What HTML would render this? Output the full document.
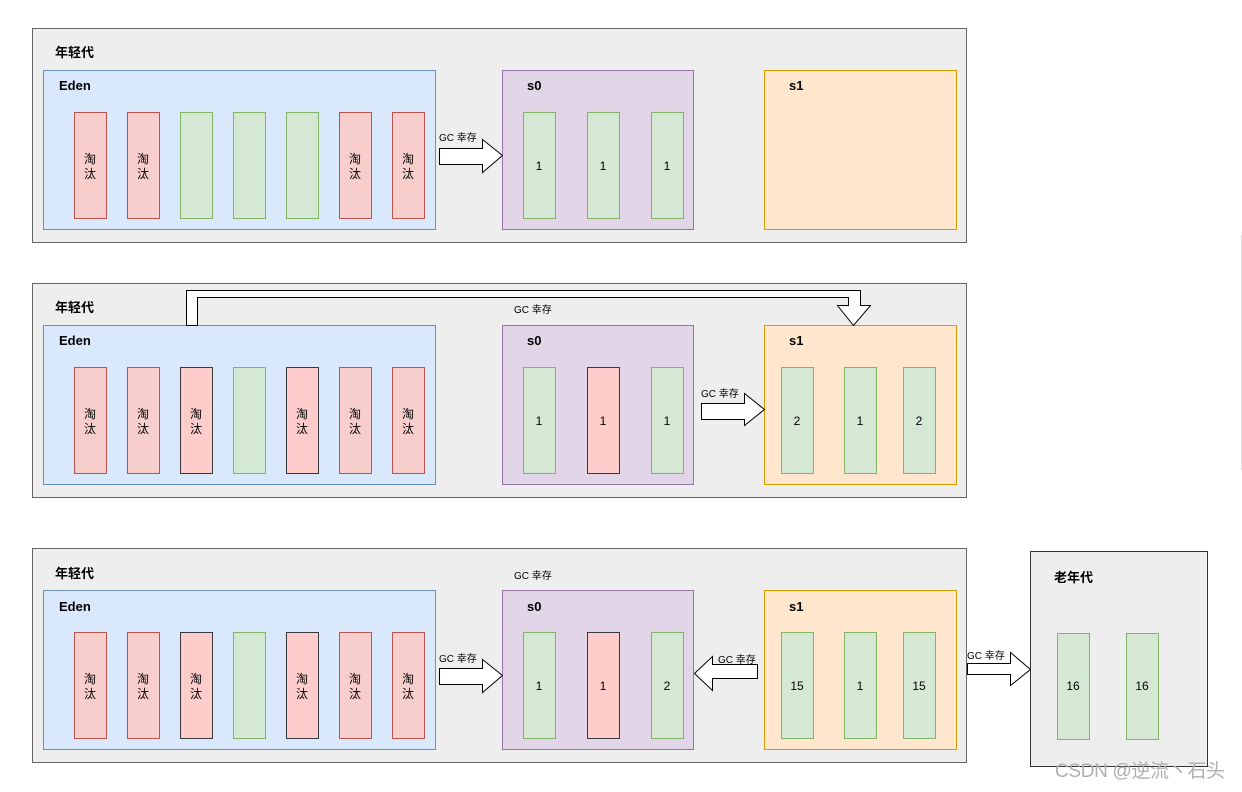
<!DOCTYPE html>
<html><head><meta charset="utf-8"><style>
body{margin:0;background:#fff;}
svg text{font-family:"Liberation Sans","Noto Sans CJK SC",sans-serif;}
</style></head><body>
<svg width="1242" height="787" viewBox="0 0 1242 787" xmlns="http://www.w3.org/2000/svg">
<defs>
<g id="tt"><text x="16" y="51" font-size="12" text-anchor="middle">淘</text><text x="16" y="66" font-size="12" text-anchor="middle">汰</text></g>
</defs>

<!-- Panel 1 -->
<rect x="32.5" y="28.5" width="934" height="214" fill="#eeeeee" stroke="#666"/>
<text x="55" y="57" font-size="13" font-weight="bold">年轻代</text>
<rect x="43.5" y="70.5" width="392" height="159" fill="#dae8fc" stroke="#6c8ebf"/>
<text x="59" y="90" font-size="13" font-weight="bold">Eden</text>
<g fill="#f8cecc" stroke="#b85450">
<rect x="74.5" y="112.5" width="32" height="106"/><rect x="127.5" y="112.5" width="32" height="106"/>
<rect x="339.5" y="112.5" width="32" height="106"/><rect x="392.5" y="112.5" width="32" height="106"/></g>
<g fill="#d5e8d4" stroke="#82b366">
<rect x="180.5" y="112.5" width="32" height="106"/><rect x="233.5" y="112.5" width="32" height="106"/><rect x="286.5" y="112.5" width="32" height="106"/></g>
<use href="#tt" x="74" y="112"/><use href="#tt" x="127" y="112"/><use href="#tt" x="339" y="112"/><use href="#tt" x="392" y="112"/>
<rect x="502.5" y="70.5" width="191" height="159" fill="#e1d5e7" stroke="#9673a6"/>
<text x="527" y="90" font-size="13" font-weight="bold">s0</text>
<g fill="#d5e8d4" stroke="#82b366">
<rect x="523.5" y="112.5" width="32" height="106"/><rect x="587.5" y="112.5" width="32" height="106"/><rect x="651.5" y="112.5" width="32" height="106"/></g>
<g font-size="12" text-anchor="middle"><text x="539" y="170">1</text><text x="603" y="170">1</text><text x="667" y="170">1</text></g>
<rect x="764.5" y="70.5" width="192" height="159" fill="#ffe6cc" stroke="#d79b00"/>
<text x="789" y="90" font-size="13" font-weight="bold">s1</text>
<path d="M439.5 148.5H482.5V139.5L502.5 155.5L482.5 172.5V164.5H439.5Z" fill="#fff" stroke="#000"/>
<text x="439" y="141" font-size="10">GC 幸存</text>

<!-- Panel 2 -->
<rect x="32.5" y="283.5" width="934" height="214" fill="#eeeeee" stroke="#666"/>
<text x="55" y="312" font-size="13" font-weight="bold">年轻代</text>
<rect x="43.5" y="325.5" width="392" height="159" fill="#dae8fc" stroke="#6c8ebf"/>
<text x="59" y="345" font-size="13" font-weight="bold">Eden</text>
<g fill="#f8cecc" stroke="#b85450">
<rect x="74.5" y="367.5" width="32" height="106"/><rect x="127.5" y="367.5" width="32" height="106"/>
<rect x="339.5" y="367.5" width="32" height="106"/><rect x="392.5" y="367.5" width="32" height="106"/></g>
<g fill="#ffcccc" stroke="#36393d">
<rect x="180.5" y="367.5" width="32" height="106"/><rect x="286.5" y="367.5" width="32" height="106"/></g>
<rect x="233.5" y="367.5" width="32" height="106" fill="#d5e8d4" stroke="#82b366"/>
<use href="#tt" x="74" y="367"/><use href="#tt" x="127" y="367"/><use href="#tt" x="180" y="367"/><use href="#tt" x="286" y="367"/><use href="#tt" x="339" y="367"/><use href="#tt" x="392" y="367"/>
<rect x="502.5" y="325.5" width="191" height="159" fill="#e1d5e7" stroke="#9673a6"/>
<text x="527" y="345" font-size="13" font-weight="bold">s0</text>
<rect x="523.5" y="367.5" width="32" height="106" fill="#d5e8d4" stroke="#82b366"/>
<rect x="587.5" y="367.5" width="32" height="106" fill="#ffcccc" stroke="#36393d"/>
<rect x="651.5" y="367.5" width="32" height="106" fill="#d5e8d4" stroke="#82b366"/>
<g font-size="12" text-anchor="middle"><text x="539" y="425">1</text><text x="603" y="425">1</text><text x="667" y="425">1</text></g>
<rect x="764.5" y="325.5" width="192" height="159" fill="#ffe6cc" stroke="#d79b00"/>
<text x="789" y="345" font-size="13" font-weight="bold">s1</text>
<g fill="#d5e8d4" stroke="#82b366">
<rect x="781.5" y="367.5" width="32" height="106"/><rect x="844.5" y="367.5" width="32" height="106"/><rect x="903.5" y="367.5" width="32" height="106"/></g>
<g font-size="12" text-anchor="middle"><text x="797" y="425">2</text><text x="860" y="425">1</text><text x="919" y="425">2</text></g>
<path d="M701.5 403.5H744.5V393.5L764.5 409.5L744.5 425.5V419.5H701.5Z" fill="#fff" stroke="#000"/>
<text x="701" y="397" font-size="10">GC 幸存</text>
<path d="M186.5 325.5V290.5H860.5V305.5H870.5L853.5 325.5L837.5 305.5H848.5V297.5H197.5V325.5Z" fill="#fff" stroke="#000"/>
<text x="514" y="313" font-size="10">GC 幸存</text>

<!-- Panel 3 -->
<rect x="32.5" y="548.5" width="934" height="214" fill="#eeeeee" stroke="#666"/>
<text x="55" y="578" font-size="13" font-weight="bold">年轻代</text>
<text x="514" y="579" font-size="10">GC 幸存</text>
<rect x="43.5" y="590.5" width="392" height="159" fill="#dae8fc" stroke="#6c8ebf"/>
<text x="59" y="611" font-size="13" font-weight="bold">Eden</text>
<g fill="#f8cecc" stroke="#b85450">
<rect x="74.5" y="632.5" width="32" height="106"/><rect x="127.5" y="632.5" width="32" height="106"/>
<rect x="339.5" y="632.5" width="32" height="106"/><rect x="392.5" y="632.5" width="32" height="106"/></g>
<g fill="#ffcccc" stroke="#36393d">
<rect x="180.5" y="632.5" width="32" height="106"/><rect x="286.5" y="632.5" width="32" height="106"/></g>
<rect x="233.5" y="632.5" width="32" height="106" fill="#d5e8d4" stroke="#82b366"/>
<use href="#tt" x="74" y="632"/><use href="#tt" x="127" y="632"/><use href="#tt" x="180" y="632"/><use href="#tt" x="286" y="632"/><use href="#tt" x="339" y="632"/><use href="#tt" x="392" y="632"/>
<rect x="502.5" y="590.5" width="191" height="159" fill="#e1d5e7" stroke="#9673a6"/>
<text x="527" y="611" font-size="13" font-weight="bold">s0</text>
<rect x="523.5" y="632.5" width="32" height="106" fill="#d5e8d4" stroke="#82b366"/>
<rect x="587.5" y="632.5" width="32" height="106" fill="#ffcccc" stroke="#36393d"/>
<rect x="651.5" y="632.5" width="32" height="106" fill="#d5e8d4" stroke="#82b366"/>
<g font-size="12" text-anchor="middle"><text x="539" y="690">1</text><text x="603" y="690">1</text><text x="667" y="690">2</text></g>
<rect x="764.5" y="590.5" width="192" height="159" fill="#ffe6cc" stroke="#d79b00"/>
<text x="789" y="611" font-size="13" font-weight="bold">s1</text>
<g fill="#d5e8d4" stroke="#82b366">
<rect x="781.5" y="632.5" width="32" height="106"/><rect x="844.5" y="632.5" width="32" height="106"/><rect x="903.5" y="632.5" width="32" height="106"/></g>
<g font-size="12" text-anchor="middle"><text x="797" y="690">15</text><text x="860" y="690">1</text><text x="919" y="690">15</text></g>
<path d="M439.5 668.5H482.5V659.5L502.5 675.5L482.5 692.5V684.5H439.5Z" fill="#fff" stroke="#000"/>
<text x="439" y="662" font-size="10">GC 幸存</text>
<path d="M757.5 664.5H712.5V656.5L694.5 673.5L712.5 690.5V678.5H757.5Z" fill="#fff" stroke="#000"/>
<text x="718" y="663" font-size="10">GC 幸存</text>
<rect x="1030.5" y="551.5" width="177" height="215" fill="#eeeeee" stroke="#333"/>
<text x="1054" y="582" font-size="13" font-weight="bold">老年代</text>
<g fill="#d5e8d4" stroke="#82b366">
<rect x="1057.5" y="633.5" width="32" height="106"/><rect x="1126.5" y="633.5" width="32" height="106"/></g>
<g font-size="12" text-anchor="middle"><text x="1073" y="690">16</text><text x="1142" y="690">16</text></g>
<path d="M967.5 663.5H1010.5V652.5L1030.5 669.5L1010.5 685.5V674.5H967.5Z" fill="#fff" stroke="#000"/>
<text x="967" y="659" font-size="10">GC 幸存</text>
<text x="1055" y="777" font-size="19" fill="#b0b0b0" textLength="170">CSDN @逆流丶石头</text>
<line x1="1241.5" y1="235" x2="1241.5" y2="470" stroke="#ddd"/>
</svg>
</body></html>
